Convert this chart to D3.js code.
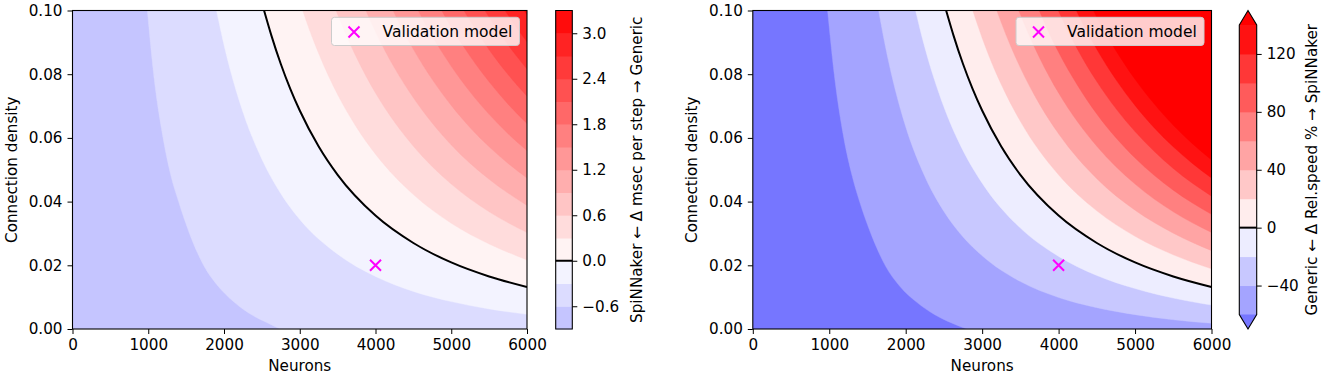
<!DOCTYPE html>
<html>
<head>
<meta charset="utf-8">
<script src="https://cdn.jsdelivr.net/npm/d3@7"></script>
<style>
  body { margin: 0; background: #fff; }
  text { font-family: "DejaVu Sans", sans-serif; }
</style>
</head>
<body>
<svg id="chart" width="1325" height="378"></svg>
<script>
// ---- data ----
const neuronTicks = [0, 1000, 2000, 3000, 4000, 5000, 6000];
const densityTicks = [0, 0.02, 0.04, 0.06, 0.08, 0.10];
const validationModel = [4000, 0.02];

// left panel: delta msec per step
const leftLevels = [-0.9, -0.6, -0.3, 0, 0.3, 0.6, 0.9, 1.2, 1.5, 1.8, 2.1, 2.4, 2.7, 3.0, 3.3];
const leftColors = ["#c5c5ff", "#dcdcff", "#f3f3ff", "#fff3f3", "#ffdcdc", "#ffc5c5", "#ffaeae",
                    "#ff9797", "#ff8080", "#ff6868", "#ff5151", "#ff3a3a", "#ff2323", "#ff0c0c"];
const leftCbarTicks = [-0.6, 0, 0.6, 1.2, 1.8, 2.4, 3.0];
// contour lines [neurons, density], one per inner level (-0.6 ... 3.0)
const leftLines = [
  [[988,0.1],[1071,0.08],[1195,0.06],[1300,0.048],[1400,0.04],[1560,0.029],[1735,0.0198],[1920,0.0135],[2116,0.0088],[2341,0.0048],[2557,0.0021],[2740,0]],
  [[1901,0.1],[1950,0.0945],[2000,0.0892],[2125,0.0777],[2250,0.0681],[2500,0.0533],[2750,0.0425],[3000,0.0344],[3500,0.0235],[4000,0.0165],[4500,0.0118],[5000,0.0086],[5500,0.0063],[6000,0.0046]],
  [[2529,0.1],[2625,0.0922],[2750,0.0832],[2875,0.0754],[3000,0.0686],[3250,0.0573],[3500,0.0484],[4000,0.0356],[4500,0.0270],[5000,0.0209],[5500,0.0165],[6000,0.0132]],
  [[3039,0.1],[3125,0.0941],[3250,0.0865],[3375,0.0797],[3500,0.0736],[3750,0.0633],[4000,0.0549],[4500,0.0422],[5000,0.0332],[5500,0.0267],[6000,0.0217]],
  [[3479,0.1],[3600,0.0930],[3750,0.0852],[4000,0.0741],[4250,0.0650],[4500,0.0574],[5000,0.0455],[5500,0.0368],[6000,0.0303]],
  [[3873,0.1],[4000,0.0934],[4125,0.0874],[4250,0.0820],[4500,0.0726],[4750,0.0646],[5000,0.0578],[5500,0.0470],[6000,0.0388]],
  [[4232,0.1],[4350,0.0943],[4500,0.0878],[4750,0.0783],[5000,0.0702],[5250,0.0632],[5500,0.0572],[5750,0.0520],[6000,0.0474]],
  [[4564,0.1],[4650,0.0961],[4750,0.0919],[5000,0.0825],[5250,0.0744],[5500,0.0674],[5750,0.0613],[6000,0.0560]],
  [[4874,0.1],[4950,0.0968],[5000,0.0948],[5250,0.0856],[5500,0.0776],[5750,0.0706],[6000,0.0645]],
  [[5167,0.1],[5250,0.0967],[5375,0.0921],[5500,0.0877],[5750,0.0799],[6000,0.0731]],
  [[5445,0.1],[5500,0.0979],[5625,0.0934],[5750,0.0892],[5875,0.0853],[6000,0.0816]],
  [[5710,0.1],[5750,0.0986],[5875,0.0942],[6000,0.0902]],
  [[5963,0.1],[6000,0.0987]]
];

// right panel: relative speed %
const rightLevels = [-60, -40, -20, 0, 20, 40, 60, 80, 100, 120, 140];
const rightColors = ["#7676ff", "#a4a4ff", "#c8c8ff", "#ededff", "#ffeded", "#ffc8c8", "#ffa4a4",
                     "#ff8080", "#ff5b5b", "#ff3737", "#ff1212", "#ff0000"];
const rightCbarTicks = [-40, 0, 40, 80, 120];
const rightLines = [
  [[978,0.1],[1065,0.08],[1190,0.06],[1300,0.048],[1410,0.039],[1560,0.029],[1740,0.0196],[1920,0.0135],[2150,0.0083],[2380,0.0045],[2600,0.0019],[2800,0]],
  [[1646,0.1],[1700,0.0929],[1750,0.0869],[1875,0.0740],[2000,0.0635],[2250,0.0479],[2500,0.0369],[2750,0.0289],[3000,0.0230],[3500,0.0149],[4000,0.0099],[4500,0.0067],[5000,0.0045],[5500,0.0029],[6000,0.0018]],
  [[2129,0.1],[2190,0.0939],[2250,0.0884],[2375,0.0783],[2500,0.0697],[2750,0.0560],[3000,0.0458],[3500,0.0317],[4000,0.0228],[4500,0.0168],[5000,0.0127],[5500,0.0097],[6000,0.0075]],
  [[2529,0.1],[2625,0.0922],[2750,0.0832],[2875,0.0754],[3000,0.0686],[3250,0.0573],[3500,0.0484],[4000,0.0356],[4500,0.0270],[5000,0.0209],[5500,0.0165],[6000,0.0132]],
  [[2878,0.1],[2940,0.0955],[3000,0.0914],[3125,0.0836],[3250,0.0768],[3500,0.0652],[4000,0.0484],[4500,0.0371],[5000,0.0291],[5500,0.0233],[6000,0.0189]],
  [[3192,0.1],[3250,0.0962],[3375,0.0887],[3500,0.0820],[3750,0.0706],[4000,0.0613],[4500,0.0472],[5000,0.0373],[5500,0.0301],[6000,0.0246]],
  [[3479,0.1],[3600,0.0930],[3750,0.0852],[4000,0.0741],[4250,0.0650],[4500,0.0574],[5000,0.0455],[5500,0.0368],[6000,0.0303]],
  [[3746,0.1],[3850,0.0943],[4000,0.0869],[4250,0.0764],[4500,0.0675],[5000,0.0537],[5500,0.0436],[6000,0.0360]],
  [[3996,0.1],[4100,0.0947],[4250,0.0877],[4500,0.0777],[4750,0.0692],[5000,0.0620],[5500,0.0504],[6000,0.0417]],
  [[4232,0.1],[4350,0.0943],[4500,0.0878],[4750,0.0783],[5000,0.0702],[5250,0.0632],[5500,0.0572],[5750,0.0520],[6000,0.0474]],
  [[4456,0.1],[4500,0.0979],[4625,0.0924],[4750,0.0874],[5000,0.0784],[5250,0.0707],[5500,0.0640],[5750,0.0582],[6000,0.0531]]
];

const svg = d3.select("#chart");
const FS = 15.2;
const plotTop = 10.5, plotBottom = 329;

function drawPanel(p) {
  const x = d3.scaleLinear().domain([0, 6000]).range([p.x0, p.x1]);
  const y = d3.scaleLinear().domain([0, 0.1]).range([plotBottom, plotTop]);

  const clipId = "clip" + p.id;
  svg.append("clipPath").attr("id", clipId)
    .append("rect")
    .attr("x", p.x0).attr("y", plotTop)
    .attr("width", p.x1 - p.x0).attr("height", plotBottom - plotTop);

  const g = svg.append("g").attr("clip-path", `url(#${clipId})`);

  // lowest band as background
  g.append("rect")
    .attr("x", p.x0).attr("y", plotTop)
    .attr("width", p.x1 - p.x0).attr("height", plotBottom - plotTop)
    .attr("fill", p.colors[0]);

  const line = d3.line()
    .x(d => x(d[0]))
    .y(d => y(d[1]))
    .curve(d3.curveMonotoneX);

  // each contour: fill everything above / right of it with the next colour
  p.lines.forEach((pts, i) => {
    const last = pts[pts.length - 1];
    let path = line(pts);
    if (last[1] <= 0) path += `L${x(6000)},${y(0)}`;
    path += `L${x(6000)},${y(0.1)}Z`;
    g.append("path")
      .attr("d", path)
      .attr("fill", p.colors[i + 1])
      .attr("stroke", p.colors[i + 1])
      .attr("stroke-width", 0.4);
  });

  // zero contour
  const zeroIdx = p.levels.indexOf(0) - p.levelOffset;
  g.append("path")
    .attr("d", line(p.lines[zeroIdx]))
    .attr("fill", "none")
    .attr("stroke", "#000")
    .attr("stroke-width", 2);

  // validation marker
  drawCross(g, x(validationModel[0]), y(validationModel[1]));

  // axes
  const xAxis = svg.append("g")
    .attr("transform", `translate(0,${plotBottom})`)
    .call(d3.axisBottom(x).tickValues(neuronTicks).tickFormat(d3.format("d")).tickSize(5).tickPadding(5));
  const yAxis = svg.append("g")
    .attr("transform", `translate(${p.x0},0)`)
    .call(d3.axisLeft(y).tickValues(densityTicks).tickFormat(d3.format(".2f")).tickSize(5).tickPadding(5));
  [xAxis, yAxis].forEach(a => {
    a.select(".domain").remove();
    a.selectAll("text").attr("font-size", FS).attr("font-family", "DejaVu Sans").attr("fill", "#000");
    a.selectAll("line").attr("stroke", "#000").attr("stroke-width", 1);
  });

  svg.append("rect")
    .attr("x", p.x0).attr("y", plotTop)
    .attr("width", p.x1 - p.x0).attr("height", plotBottom - plotTop)
    .attr("fill", "none").attr("stroke", "#000").attr("stroke-width", 1.1);

  svg.append("text")
    .attr("x", (p.x0 + p.x1) / 2).attr("y", 371)
    .attr("text-anchor", "middle").attr("font-size", FS)
    .text("Neurons");
  svg.append("text")
    .attr("transform", `translate(${p.yLabelX},${(plotTop + plotBottom) / 2}) rotate(-90)`)
    .attr("text-anchor", "middle").attr("font-size", FS)
    .text("Connection density");

  // legend
  const lg = svg.append("g");
  lg.append("rect")
    .attr("x", p.x1 - 195.5).attr("y", 17.3)
    .attr("width", 188).attr("height", 28.2)
    .attr("rx", 3)
    .attr("fill", "#fff").attr("fill-opacity", 0.8)
    .attr("stroke", "#ccc").attr("stroke-width", 1);
  drawCross(lg, p.x1 - 173, 32);
  lg.append("text")
    .attr("x", p.x1 - 144.5).attr("y", 37.4)
    .attr("font-size", 15.5)
    .text("Validation model");
}

function drawCross(g, cx, cy) {
  const r = 5.5;
  g.append("path")
    .attr("d", `M${cx - r},${cy - r}L${cx + r},${cy + r}M${cx - r},${cy + r}L${cx + r},${cy - r}`)
    .attr("stroke", "#ff00ff").attr("stroke-width", 2).attr("fill", "none");
}

function drawColorbar(c) {
  const cy = d3.scaleLinear().domain(c.domain).range([c.bodyBottom, c.bodyTop]);
  const g = svg.append("g");
  const bands = d3.pairs(c.levels);
  const off = c.extend ? 1 : 0;
  g.selectAll("rect.band")
    .data(bands)
    .join("rect")
    .attr("class", "band")
    .attr("x", c.x0).attr("width", c.x1 - c.x0)
    .attr("y", d => cy(d[1]))
    .attr("height", d => cy(d[0]) - cy(d[1]) + 0.5)
    .attr("fill", (d, i) => c.colors[i + off]);

  let outline;
  const xm = (c.x0 + c.x1) / 2;
  if (c.extend) {
    g.append("path")
      .attr("d", `M${c.x0},${c.bodyBottom}L${c.x1},${c.bodyBottom}L${xm},${c.tipBottom}Z`)
      .attr("fill", c.colors[0]);
    g.append("path")
      .attr("d", `M${c.x0},${c.bodyTop}L${c.x1},${c.bodyTop}L${xm},${c.tipTop}Z`)
      .attr("fill", c.colors[c.colors.length - 1]);
    outline = `M${c.x0},${c.bodyTop}L${xm},${c.tipTop}L${c.x1},${c.bodyTop}L${c.x1},${c.bodyBottom}L${xm},${c.tipBottom}L${c.x0},${c.bodyBottom}Z`;
  } else {
    outline = `M${c.x0},${c.bodyTop}L${c.x1},${c.bodyTop}L${c.x1},${c.bodyBottom}L${c.x0},${c.bodyBottom}Z`;
  }

  g.append("line")
    .attr("x1", c.x0).attr("x2", c.x1)
    .attr("y1", cy(0)).attr("y2", cy(0))
    .attr("stroke", "#000").attr("stroke-width", 2);

  g.append("path").attr("d", outline)
    .attr("fill", "none").attr("stroke", "#000").attr("stroke-width", 1.1);

  const ax = svg.append("g")
    .attr("transform", `translate(${c.x1},0)`)
    .call(d3.axisRight(cy).tickValues(c.ticks).tickFormat(c.format).tickSize(5).tickPadding(5));
  ax.select(".domain").remove();
  ax.selectAll("text").attr("font-size", FS).attr("font-family", "DejaVu Sans").attr("fill", "#000");
  ax.selectAll("line").attr("stroke", "#000");

  svg.append("text")
    .attr("transform", `translate(${c.labelX},${(c.tipTop + c.tipBottom) / 2}) rotate(-90)`)
    .attr("text-anchor", "middle").attr("font-size", FS)
    .text(c.label);
}

drawPanel({
  id: "L", x0: 72.5, x1: 527, yLabelX: 16.5,
  levels: leftLevels, levelOffset: 1, colors: leftColors, lines: leftLines
});
drawPanel({
  id: "R", x0: 752.8, x1: 1211.5, yLabelX: 697,
  levels: rightLevels, levelOffset: 0, colors: rightColors, lines: rightLines
});

drawColorbar({
  x0: 555.7, x1: 572.3, bodyTop: 10.5, bodyBottom: 329, tipTop: 10.5, tipBottom: 329,
  domain: [leftLevels[0], leftLevels[leftLevels.length - 1]],
  levels: leftLevels, colors: leftColors, extend: false,
  ticks: leftCbarTicks, format: d3.format(".1f"),
  labelX: 642, label: "SpiNNaker ← Δ msec per step → Generic"
});
drawColorbar({
  x0: 1239.3, x1: 1256.7, bodyTop: 25, bodyBottom: 314.5, tipTop: 10.5, tipBottom: 329,
  domain: [rightLevels[0], rightLevels[rightLevels.length - 1]],
  levels: rightLevels, colors: rightColors, extend: true,
  ticks: rightCbarTicks, format: d3.format("d"),
  labelX: 1317, label: "Generic ← Δ Rel.speed % → SpiNNaker"
});
</script>
</body>
</html>
